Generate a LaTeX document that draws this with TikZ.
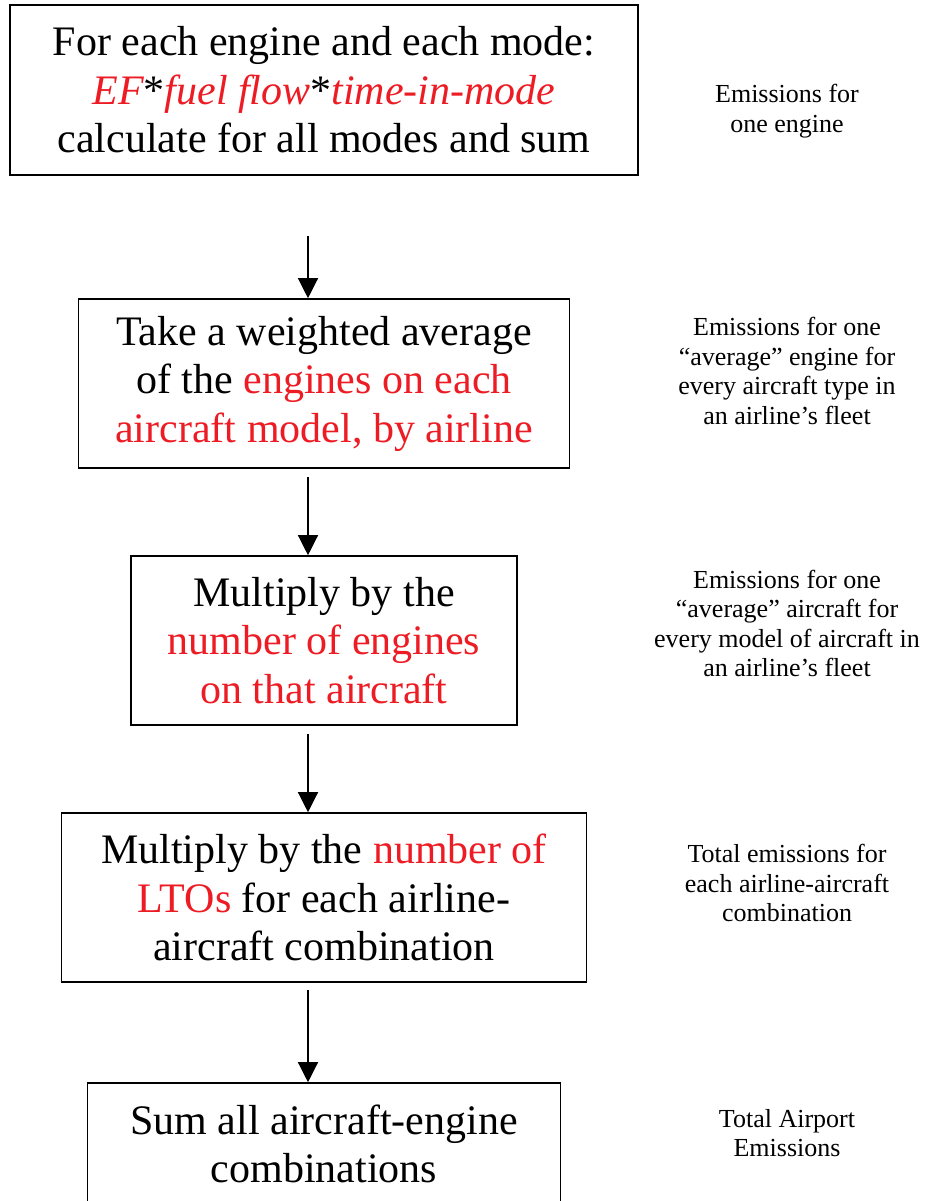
\documentclass[tikz,border=0pt]{standalone}
\usepackage{fontspec}
\setmainfont{Liberation Serif}
\usetikzlibrary{arrows.meta}
\definecolor{hilite}{RGB}{237,28,36}
\newcommand{\hl}[1]{\textcolor{hilite}{#1}}

\begin{document}
\begin{tikzpicture}[x=1pt,y=-1pt,
    box/.style={draw,line width=1.6pt,align=center,inner sep=0pt,font=\fontsize{42}{48.5}\selectfont},
    side/.style={align=center,font=\fontsize{26}{29.5}\selectfont},
    flow/.style={line width=1.3pt,-{Triangle[length=20pt,width=20pt]}}]
        \useasboundingbox (0,0) rectangle (925,1201);
        \node [box,minimum width=628pt,minimum height=170pt] (b1) at (324,90) {For each engine and each mode:\\ \hl{\itshape EF}*\hl{\itshape fuel flow}*\hl{\itshape time-in-mode}\\ calculate for all modes and sum};
        \node [box,minimum width=491pt,minimum height=169pt] (b2) at (324,383.5) {Take a weighted average\\ of the \hl{engines on each}\\ \hl{aircraft model, by airline}};
        \node [box,minimum width=386pt,minimum height=169pt] (b3) at (324,640.5) {Multiply by the\\ \hl{number of engines}\\ \hl{on that aircraft}};
        \node [box,minimum width=525pt,minimum height=169pt] (b4) at (324,897.5) {Multiply by the \hl{number of}\\ \hl{LTOs} for each airline-\\ aircraft combination};
        \node [box,minimum width=473pt,minimum height=170pt] (b5) at (324,1168) {Sum all aircraft-engine\\ combinations\\ \mbox{}};
        \draw [flow] ([xshift=-16pt,yshift=-60pt]b1.south) -- ([xshift=-16pt]b2.north);
        \draw [flow] ([xshift=-16pt,yshift=-8pt]b2.south) -- ([xshift=-16pt]b3.north);
        \draw [flow] ([xshift=-16pt,yshift=-8pt]b3.south) -- ([xshift=-16pt]b4.north);
        \draw [flow] ([xshift=-16pt,yshift=-7pt]b4.south) -- ([xshift=-16pt]b5.north);
        \node [side] (s1) at (787,111) {Emissions for\\ one engine};
        \node [side] (s2) at (787,371) {Emissions for one\\ ``average'' engine for\\ every aircraft type in\\ an airline's fleet};
        \node [side] (s3) at (787,623.5) {Emissions for one\\ ``average'' aircraft for\\ every model of aircraft in\\ an airline's fleet};
        \node [side] (s4) at (787,883) {Total emissions for\\ each airline-aircraft\\ combination};
        \node [side] (s5) at (787,1133) {Total Airport\\ Emissions};
      \end{tikzpicture}
\end{document}
